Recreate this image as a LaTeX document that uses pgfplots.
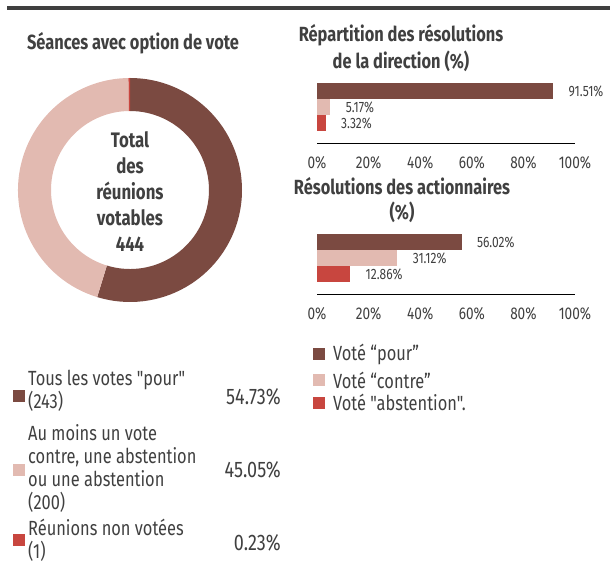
\documentclass[border=0pt]{standalone}
\usepackage{pgfplots}
\pgfplotsset{compat=1.18}
\usepackage{fontspec}
\setmainfont{Fira Sans}[FakeStretch=0.8, Ligatures=TeXOff]
\definecolor{cpour}{HTML}{7B4A41}
\definecolor{ccontre}{HTML}{E2BAB1}
\definecolor{cabst}{HTML}{C8463F}
\definecolor{txt}{HTML}{404040}
\definecolor{bar}{HTML}{3F3F3F}
% donut shares (%)
\def\vPour{54.73}
\def\vContre{45.05}
\def\vAbst{0.23}
\pgfplotsset{
  hbar/.style={
    xbar, x=2.58pt, y=16pt, bar width=16pt,
    xmin=0, xmax=100, ymin=-1.25, ymax=2.6,
    axis x line=bottom, axis y line=none,
    x axis line style={-, black, line width=0.8pt},
    xtick={0,20,40,60,80,100},
    xticklabels={0\%,20\%,40\%,60\%,80\%,100\%},
    major tick length=0pt,
    xticklabel style={anchor=center, yshift=-20pt, font=\fontsize{17}{19}\selectfont, text=txt},
    ytick=\empty,
    point meta=x,
    /pgf/number format/assume math mode=true,
    nodes near coords={\pgfmathprintnumber[fixed,fixed zerofill,precision=2]{\pgfplotspointmeta}\%},
    every node near coord/.append style={anchor=west, xshift=12pt, font=\fontsize{15}{17}\selectfont, text=txt},
    clip=false,
  }
}
\begin{document}
\begin{tikzpicture}[x=1pt,y=1pt]
\path[use as bounding box] (0,0) rectangle (610,568);
\fill[bar] (7,558) rectangle (610,562);
% left title
\node[font=\bfseries\fontsize{20.5}{22}\selectfont, text=txt] at (133,525) {Séances avec option de vote};
% donut angles
\pgfmathsetmacro\aA{90}
\pgfmathsetmacro\aB{90-3.6*\vPour}
\pgfmathsetmacro\aC{\aB-3.6*\vContre}
\pgfmathsetmacro\aD{\aC-3.6*\vAbst}
\begin{axis}[hide axis, x=1pt, y=1pt, xmin=-115, xmax=115, ymin=-115, ymax=115,
  at={(130pt,378pt)}, anchor=center, clip=false]
\fill[cpour] (axis cs:{112*cos(\aA)},{112*sin(\aA)}) arc[start angle=\aA, end angle=\aB, radius=112pt]
  -- (axis cs:{79*cos(\aB)},{79*sin(\aB)}) arc[start angle=\aB, end angle=\aA, radius=79pt] -- cycle;
\fill[ccontre] (axis cs:{112*cos(\aB)},{112*sin(\aB)}) arc[start angle=\aB, end angle=\aC, radius=112pt]
  -- (axis cs:{79*cos(\aC)},{79*sin(\aC)}) arc[start angle=\aC, end angle=\aB, radius=79pt] -- cycle;
\fill[cabst] (axis cs:{112*cos(\aC)},{112*sin(\aC)}) arc[start angle=\aC, end angle=\aD, radius=112pt]
  -- (axis cs:{79*cos(\aD)},{79*sin(\aD)}) arc[start angle=\aD, end angle=\aC, radius=79pt] -- cycle;
\end{axis}
\node[align=center, font=\bfseries\fontsize{21}{26}\selectfont, text=txt] at (130,376) {Total\\des\\réunions\\votables\\444};
% right title 1
\node[align=center, font=\bfseries\fontsize{20.5}{27}\selectfont, text=txt] at (401,519.5) {Répartition des résolutions\\de la direction (\%)};
\begin{axis}[hbar, at={(317pt,425pt)}, anchor=south west]
\addplot[fill=cpour, draw=none, bar shift=0pt] coordinates {(91.51,2)};
\addplot[fill=ccontre, draw=none, bar shift=0pt] coordinates {(5.17,1)};
\addplot[fill=cabst, draw=none, bar shift=0pt] coordinates {(3.32,0)};
\end{axis}
% right title 2
\node[align=center, font=\bfseries\fontsize{20.5}{25}\selectfont, text=txt] at (402,367.5) {Résolutions des actionnaires\\(\%)};
\begin{axis}[hbar, at={(317pt,274pt)}, anchor=south west]
\addplot[fill=cpour, draw=none, bar shift=0pt] coordinates {(56.02,2)};
\addplot[fill=ccontre, draw=none, bar shift=0pt] coordinates {(31.12,1)};
\addplot[fill=cabst, draw=none, bar shift=0pt] coordinates {(12.86,0)};
\end{axis}
% right legend
\begin{scope}[font=\fontsize{20.5}{22}\selectfont, text=txt]
\fill[cpour] (313,208) rectangle (325,220);
\node[anchor=west, inner sep=0pt] at (333,214) {Voté “pour”};
\fill[ccontre] (313,182) rectangle (325,194);
\node[anchor=west, inner sep=0pt] at (333,188) {Voté “contre”};
\fill[cabst] (313,159.5) rectangle (325,171.5);
\node[anchor=west, inner sep=0pt] at (333,165.5) {Voté "abstention".};
\end{scope}
% left legend
\begin{scope}[font=\fontsize{20.5}{23}\selectfont, text=txt]
\fill[cpour] (13,166) rectangle (25,178);
\node[anchor=west, align=left, inner sep=0pt] at (28,177) {Tous les votes "pour"\\(243)};
\fill[ccontre] (13,92) rectangle (25,104);
\node[anchor=west, align=left, inner sep=0pt] at (28,99.5) {Au moins un vote\\contre, une abstention\\ou une abstention\\(200)};
\fill[cabst] (13,22) rectangle (25,34);
\node[anchor=west, align=left, inner sep=0pt] at (28,28) {Réunions non votées\\(1)};
\end{scope}
\begin{scope}[font=\fontsize{22.5}{24}\selectfont, text=txt]
\node[anchor=east, inner sep=0pt] at (281,171) {54.73\%};
\node[anchor=east, inner sep=0pt] at (281,98) {45.05\%};
\node[anchor=east, inner sep=0pt] at (281,25) {0.23\%};
\end{scope}
\end{tikzpicture}
\end{document}
